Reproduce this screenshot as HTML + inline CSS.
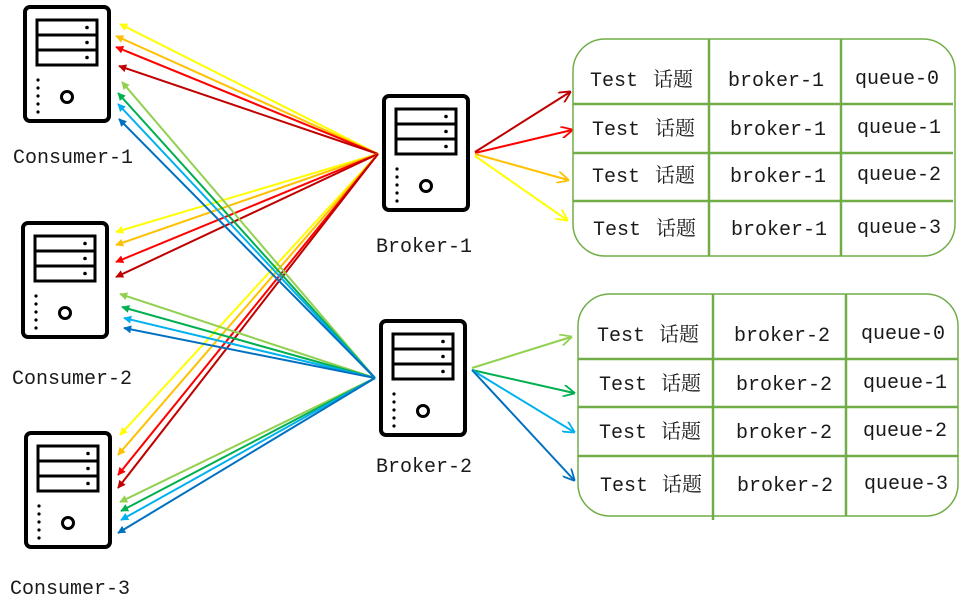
<!DOCTYPE html>
<html><head><meta charset="utf-8"><style>
html,body{margin:0;padding:0;background:#fff}
svg{display:block}
text{font-family:"Liberation Mono","Noto Serif CJK SC",monospace;fill:#1a1a1a}
.c{font-family:"Noto Serif CJK SC","Noto Sans CJK SC",serif}
</style></head><body>
<svg width="960" height="607" viewBox="0 0 960 607" xmlns="http://www.w3.org/2000/svg">
<defs>
<g id="srv">
<rect x="2" y="2" width="84" height="114" rx="5" fill="#fff" stroke="#000" stroke-width="4"/>
<rect x="14" y="15" width="60" height="45" fill="none" stroke="#000" stroke-width="3"/>
<line x1="14" y1="30" x2="74" y2="30" stroke="#000" stroke-width="3"/>
<line x1="14" y1="45" x2="74" y2="45" stroke="#000" stroke-width="3"/>
<circle cx="64" cy="22.5" r="1.8"/><circle cx="64" cy="37.5" r="1.8"/><circle cx="64" cy="52.5" r="1.8"/>
<circle cx="15" cy="75" r="1.6"/><circle cx="15" cy="83" r="1.6"/><circle cx="15" cy="91" r="1.6"/><circle cx="15" cy="99" r="1.6"/><circle cx="15" cy="107" r="1.6"/>
<circle cx="44" cy="92" r="5.5" fill="none" stroke="#000" stroke-width="3"/>
</g>
<marker id="fY" viewBox="0 0 10 10" refX="9" refY="5" markerWidth="4" markerHeight="4" orient="auto"><path d="M0,0L10,5L0,10z" fill="#FFFF00"/></marker>
<marker id="fO" viewBox="0 0 10 10" refX="9" refY="5" markerWidth="4" markerHeight="4" orient="auto"><path d="M0,0L10,5L0,10z" fill="#FFC000"/></marker>
<marker id="fR" viewBox="0 0 10 10" refX="9" refY="5" markerWidth="4" markerHeight="4" orient="auto"><path d="M0,0L10,5L0,10z" fill="#FF0000"/></marker>
<marker id="fD" viewBox="0 0 10 10" refX="9" refY="5" markerWidth="4" markerHeight="4" orient="auto"><path d="M0,0L10,5L0,10z" fill="#C00000"/></marker>
<marker id="fL" viewBox="0 0 10 10" refX="9" refY="5" markerWidth="4" markerHeight="4" orient="auto"><path d="M0,0L10,5L0,10z" fill="#92D050"/></marker>
<marker id="fG" viewBox="0 0 10 10" refX="9" refY="5" markerWidth="4" markerHeight="4" orient="auto"><path d="M0,0L10,5L0,10z" fill="#00B050"/></marker>
<marker id="fC" viewBox="0 0 10 10" refX="9" refY="5" markerWidth="4" markerHeight="4" orient="auto"><path d="M0,0L10,5L0,10z" fill="#00B0F0"/></marker>
<marker id="fB" viewBox="0 0 10 10" refX="9" refY="5" markerWidth="4" markerHeight="4" orient="auto"><path d="M0,0L10,5L0,10z" fill="#0070C0"/></marker>
<marker id="oY" viewBox="0 0 10 10" refX="9" refY="5" markerWidth="6" markerHeight="6" orient="auto"><path d="M0,0L10,5L0,10" fill="none" stroke="#FFFF00" stroke-width="1.5"/></marker>
<marker id="oO" viewBox="0 0 10 10" refX="9" refY="5" markerWidth="6" markerHeight="6" orient="auto"><path d="M0,0L10,5L0,10" fill="none" stroke="#FFC000" stroke-width="1.5"/></marker>
<marker id="oR" viewBox="0 0 10 10" refX="9" refY="5" markerWidth="6" markerHeight="6" orient="auto"><path d="M0,0L10,5L0,10" fill="none" stroke="#FF0000" stroke-width="1.5"/></marker>
<marker id="oD" viewBox="0 0 10 10" refX="9" refY="5" markerWidth="6" markerHeight="6" orient="auto"><path d="M0,0L10,5L0,10" fill="none" stroke="#C00000" stroke-width="1.5"/></marker>
<marker id="oL" viewBox="0 0 10 10" refX="9" refY="5" markerWidth="6" markerHeight="6" orient="auto"><path d="M0,0L10,5L0,10" fill="none" stroke="#92D050" stroke-width="1.5"/></marker>
<marker id="oG" viewBox="0 0 10 10" refX="9" refY="5" markerWidth="6" markerHeight="6" orient="auto"><path d="M0,0L10,5L0,10" fill="none" stroke="#00B050" stroke-width="1.5"/></marker>
<marker id="oC" viewBox="0 0 10 10" refX="9" refY="5" markerWidth="6" markerHeight="6" orient="auto"><path d="M0,0L10,5L0,10" fill="none" stroke="#00B0F0" stroke-width="1.5"/></marker>
<marker id="oB" viewBox="0 0 10 10" refX="9" refY="5" markerWidth="6" markerHeight="6" orient="auto"><path d="M0,0L10,5L0,10" fill="none" stroke="#0070C0" stroke-width="1.5"/></marker>
</defs>

<use href="#srv" x="23" y="5"/>
<use href="#srv" x="21" y="221"/>
<use href="#srv" x="24" y="431"/>
<use href="#srv" x="382" y="94"/>
<use href="#srv" x="379" y="319"/>

<g stroke-width="2" fill="none">
<line x1="378" y1="154" x2="120" y2="24" stroke="#FFFF00" marker-end="url(#fY)"/>
<line x1="378" y1="154" x2="116" y2="36" stroke="#FFC000" marker-end="url(#fO)"/>
<line x1="378" y1="154" x2="116" y2="47" stroke="#FF0000" marker-end="url(#fR)"/>
<line x1="378" y1="154" x2="119" y2="66" stroke="#C00000" marker-end="url(#fD)"/>
<line x1="378" y1="154" x2="116" y2="232" stroke="#FFFF00" marker-end="url(#fY)"/>
<line x1="378" y1="154" x2="116" y2="245" stroke="#FFC000" marker-end="url(#fO)"/>
<line x1="378" y1="154" x2="116" y2="262" stroke="#FF0000" marker-end="url(#fR)"/>
<line x1="378" y1="154" x2="116" y2="277" stroke="#C00000" marker-end="url(#fD)"/>
<line x1="378" y1="154" x2="120" y2="435" stroke="#FFFF00" marker-end="url(#fY)"/>
<line x1="378" y1="154" x2="118" y2="455" stroke="#FFC000" marker-end="url(#fO)"/>
<line x1="378" y1="154" x2="118" y2="475" stroke="#FF0000" marker-end="url(#fR)"/>
<line x1="378" y1="154" x2="118" y2="488" stroke="#C00000" marker-end="url(#fD)"/>
<line x1="375" y1="378" x2="122" y2="82" stroke="#92D050" marker-end="url(#fL)"/>
<line x1="375" y1="378" x2="118" y2="93" stroke="#00B050" marker-end="url(#fG)"/>
<line x1="375" y1="378" x2="118" y2="104" stroke="#00B0F0" marker-end="url(#fC)"/>
<line x1="375" y1="378" x2="119" y2="119" stroke="#0070C0" marker-end="url(#fB)"/>
<line x1="375" y1="378" x2="120" y2="294" stroke="#92D050" marker-end="url(#fL)"/>
<line x1="375" y1="378" x2="122" y2="307" stroke="#00B050" marker-end="url(#fG)"/>
<line x1="375" y1="378" x2="124" y2="318" stroke="#00B0F0" marker-end="url(#fC)"/>
<line x1="375" y1="378" x2="124" y2="328" stroke="#0070C0" marker-end="url(#fB)"/>
<line x1="375" y1="378" x2="120" y2="502" stroke="#92D050" marker-end="url(#fL)"/>
<line x1="375" y1="378" x2="121" y2="511" stroke="#00B050" marker-end="url(#fG)"/>
<line x1="375" y1="378" x2="121" y2="520" stroke="#00B0F0" marker-end="url(#fC)"/>
<line x1="375" y1="378" x2="118" y2="533" stroke="#0070C0" marker-end="url(#fB)"/>
<line x1="475" y1="152" x2="570" y2="92" stroke="#C00000" marker-end="url(#oD)"/>
<line x1="475" y1="153" x2="572" y2="130" stroke="#FF0000" marker-end="url(#oR)"/>
<line x1="475" y1="154" x2="568" y2="180" stroke="#FFC000" marker-end="url(#oO)"/>
<line x1="475" y1="156" x2="567" y2="220" stroke="#FFFF00" marker-end="url(#oY)"/>
<line x1="472" y1="368" x2="571" y2="337" stroke="#92D050" marker-end="url(#oL)"/>
<line x1="472" y1="370" x2="574" y2="393" stroke="#00B050" marker-end="url(#oG)"/>
<line x1="472" y1="370" x2="574" y2="432" stroke="#00B0F0" marker-end="url(#oC)"/>
<line x1="472" y1="370" x2="574" y2="480" stroke="#0070C0" marker-end="url(#oB)"/>
</g>

<g font-size="20">
<text x="13" y="163">Consumer-1</text>
<text x="12" y="384">Consumer-2</text>
<text x="10" y="594">Consumer-3</text>
<text x="376" y="252">Broker-1</text>
<text x="376" y="472">Broker-2</text>
</g>

<g stroke="#70AD47" fill="none">
<rect x="573" y="39" width="382" height="217" rx="32" stroke-width="1.5"/>
<line x1="709" y1="39" x2="709" y2="256" stroke-width="2.5"/>
<line x1="841" y1="39" x2="841" y2="256" stroke-width="2.5"/>
<line x1="573" y1="104" x2="953" y2="104" stroke-width="2.5"/>
<line x1="573" y1="153" x2="953" y2="153" stroke-width="2.5"/>
<line x1="573" y1="201" x2="953" y2="201" stroke-width="2.5"/>
<rect x="578" y="294" width="380" height="222" rx="32" stroke-width="1.5"/>
<line x1="713" y1="294" x2="713" y2="520" stroke-width="2.5"/>
<line x1="846" y1="294" x2="846" y2="516" stroke-width="2.5"/>
<line x1="578" y1="359" x2="958" y2="359" stroke-width="2.5"/>
<line x1="578" y1="407" x2="958" y2="407" stroke-width="2.5"/>
<line x1="578" y1="456" x2="958" y2="456" stroke-width="2.5"/>
</g>
<g font-size="20">
<text x="590" y="86">Test</text><text class="c" x="653" y="86">话题</text><text x="728" y="86">broker-1</text><text x="855" y="84">queue-0</text>
<text x="592" y="135">Test</text><text class="c" x="655" y="135">话题</text><text x="730" y="135">broker-1</text><text x="857" y="133">queue-1</text>
<text x="592" y="182">Test</text><text class="c" x="655" y="182">话题</text><text x="730" y="182">broker-1</text><text x="857" y="180">queue-2</text>
<text x="593" y="235">Test</text><text class="c" x="656" y="235">话题</text><text x="731" y="235">broker-1</text><text x="857" y="233">queue-3</text>
<text x="597" y="341">Test</text><text class="c" x="659" y="341">话题</text><text x="734" y="341">broker-2</text><text x="861" y="339">queue-0</text>
<text x="599" y="390">Test</text><text class="c" x="661" y="390">话题</text><text x="736" y="390">broker-2</text><text x="863" y="388">queue-1</text>
<text x="599" y="438">Test</text><text class="c" x="661" y="438">话题</text><text x="736" y="438">broker-2</text><text x="863" y="436">queue-2</text>
<text x="600" y="491">Test</text><text class="c" x="662" y="491">话题</text><text x="737" y="491">broker-2</text><text x="864" y="489">queue-3</text>
</g>
</svg>
</body></html>
